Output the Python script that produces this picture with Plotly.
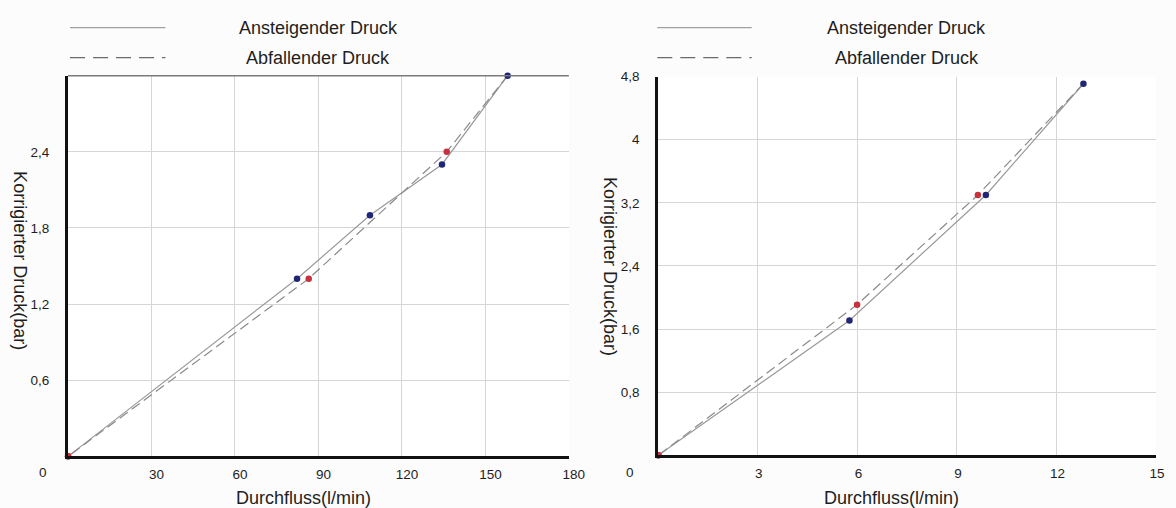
import plotly.graph_objects as go

# ---- data ----
# left panel: large flow range
left_up_flow = [0, 82.3, 108.5, 134.4, 158.0]
left_up_pressure = [0, 1.40, 1.90, 2.30, 3.00]
left_down_flow = [158.0, 136.1, 86.5, 0]
left_down_pressure = [3.00, 2.40, 1.40, 0]

# right panel: small flow range
right_up_flow = [0, 5.76, 9.87, 12.81]
right_up_pressure = [0, 1.71, 3.30, 4.71]
right_down_flow = [12.81, 9.63, 5.99, 0]
right_down_pressure = [4.71, 3.30, 1.91, 0]

left_xticks = [30, 60, 90, 120, 150, 180]
left_yticks = [0.6, 1.2, 1.8, 2.4, 3.0]
left_ylabels = ["0,6", "1,2", "1,8", "2,4", ""]
right_xticks = [3, 6, 9, 12, 15]
right_yticks = [0.8, 1.6, 2.4, 3.2, 4.0, 4.8]
right_ylabels = ["0,8", "1,6", "2,4", "3,2", "4", "4,8"]

legend_up = "Ansteigender Druck"
legend_down = "Abfallender Druck"
x_title = "Durchfluss(l/min)"
y_title = "Korrigierter Druck(bar)"

# ---- styles ----
W, H = 1176, 508
FONT = "Liberation Sans, Arial, sans-serif"
TXT = "#1e1e1e"
LINE_UP = "#9a9a9a"
LINE_DOWN = "#8a8a8a"
BLUE = "#1f2675"
RED = "#c8323c"
GRID = "#d6d6d6"


def px_x(p):
    return ((p + 1.5) / 0.9927) / W


def px_y(p):
    return 1 - ((p - 6.3) / 0.987) / H


fig = go.Figure()

panels = [
    ("x", "y", left_up_flow, left_up_pressure, left_down_flow, left_down_pressure),
    ("x2", "y2", right_up_flow, right_up_pressure, right_down_flow, right_down_pressure),
]
for xa, ya, uf, up, df, dp in panels:
    fig.add_trace(go.Scatter(x=uf, y=up, xaxis=xa, yaxis=ya, mode="lines",
                             line=dict(color=LINE_UP, width=1.2), cliponaxis=False,
                             showlegend=False, hoverinfo="skip"))
    fig.add_trace(go.Scatter(x=df, y=dp, xaxis=xa, yaxis=ya, mode="lines",
                             line=dict(color=LINE_DOWN, width=1.2, dash="10px,5px"),
                             cliponaxis=False, showlegend=False, hoverinfo="skip"))
    fig.add_trace(go.Scatter(x=uf, y=up, xaxis=xa, yaxis=ya, mode="markers",
                             marker=dict(color=BLUE, size=6.5), cliponaxis=False,
                             showlegend=False))
    fig.add_trace(go.Scatter(x=df[1:], y=dp[1:], xaxis=xa, yaxis=ya, mode="markers",
                             marker=dict(color=RED, size=6.5), cliponaxis=False,
                             showlegend=False))

axis_common = dict(showgrid=True, gridcolor=GRID, gridwidth=1, zeroline=False,
                   showline=True, linecolor="#111111", linewidth=3,
                   tickfont=dict(family=FONT, size=13.5, color=TXT),
                   ticks="outside", tickcolor="rgba(0,0,0,0)")

fig.update_layout(
    width=W, height=H,
    margin=dict(l=0, r=0, t=0, b=0),
    paper_bgcolor="#fcfcfc", plot_bgcolor="#ffffff",
    showlegend=False,
    xaxis=dict(domain=[px_x(67), px_x(571)], range=[0, 180], anchor="y",
               tickvals=left_xticks, ticktext=[str(v) for v in left_xticks],
               ticklen=3, ticklabelshift=5, **axis_common),
    yaxis=dict(domain=[px_y(456), px_y(75)], range=[0, 3.0], anchor="x",
               tickvals=left_yticks, ticktext=left_ylabels, ticklen=13, **axis_common),
    xaxis2=dict(domain=[px_x(661), px_x(1162)], range=[0, 15], anchor="y2",
                tickvals=right_xticks, ticktext=[str(v) for v in right_xticks],
                ticklen=3, ticklabelshift=1, **axis_common),
    yaxis2=dict(domain=[px_y(455), px_y(76)], range=[0, 4.8], anchor="x2",
                tickvals=right_yticks, ticktext=right_ylabels, ticklen=13, **axis_common),
)

shapes = []
annotations = []

# top border of the left panel (darker grey)
shapes.append(dict(type="line", xref="x domain", yref="y domain", x0=0, x1=1, y0=1, y1=1,
                   line=dict(color="#7a7a7a", width=1.5), layer="above"))

# legends drawn as line samples + centred text, per panel
legend_boxes = [
    (69, 165, 319),    # left: line start, line end, text centre
    (660, 755, 911),   # right
]
for x0, x1, tc in legend_boxes:
    shapes.append(dict(type="line", xref="paper", yref="paper",
                       x0=px_x(x0), x1=px_x(x1), y0=px_y(27), y1=px_y(27),
                       line=dict(color="#a0a0a0", width=1.3)))
    shapes.append(dict(type="line", xref="paper", yref="paper",
                       x0=px_x(x0), x1=px_x(x1), y0=px_y(57), y1=px_y(57),
                       line=dict(color="#6a6a6a", width=1.3, dash="15px,8px")))
    annotations.append(dict(text=legend_up, xref="paper", yref="paper",
                            x=px_x(tc), y=px_y(27), showarrow=False,
                            xanchor="center", yanchor="middle",
                            font=dict(family=FONT, size=18, color=TXT)))
    annotations.append(dict(text=legend_down, xref="paper", yref="paper",
                            x=px_x(tc), y=px_y(57), showarrow=False,
                            xanchor="center", yanchor="middle",
                            font=dict(family=FONT, size=18, color=TXT)))

# origin "0" labels, axis titles
for ox, xt_c, yt_x, yt_c in [(42, 304, 18, 260), (633, 896, 612, 266)]:
    annotations.append(dict(text="0", xref="paper", yref="paper", x=px_x(ox), y=px_y(472),
                            showarrow=False, xanchor="center", yanchor="middle",
                            font=dict(family=FONT, size=13.5, color=TXT)))
    annotations.append(dict(text=x_title, xref="paper", yref="paper", x=px_x(xt_c), y=px_y(498),
                            showarrow=False, xanchor="center", yanchor="middle",
                            font=dict(family=FONT, size=18, color=TXT)))
    annotations.append(dict(text=y_title, xref="paper", yref="paper", x=px_x(yt_x), y=px_y(yt_c),
                            showarrow=False, xanchor="center", yanchor="middle", textangle=90,
                            font=dict(family=FONT, size=18, color=TXT)))

fig.update_layout(shapes=shapes, annotations=annotations)
fig.write_html("out.html", config={"displayModeBar": False},
               post_script="document.body.style.margin='0';document.body.style.overflow='hidden';")
